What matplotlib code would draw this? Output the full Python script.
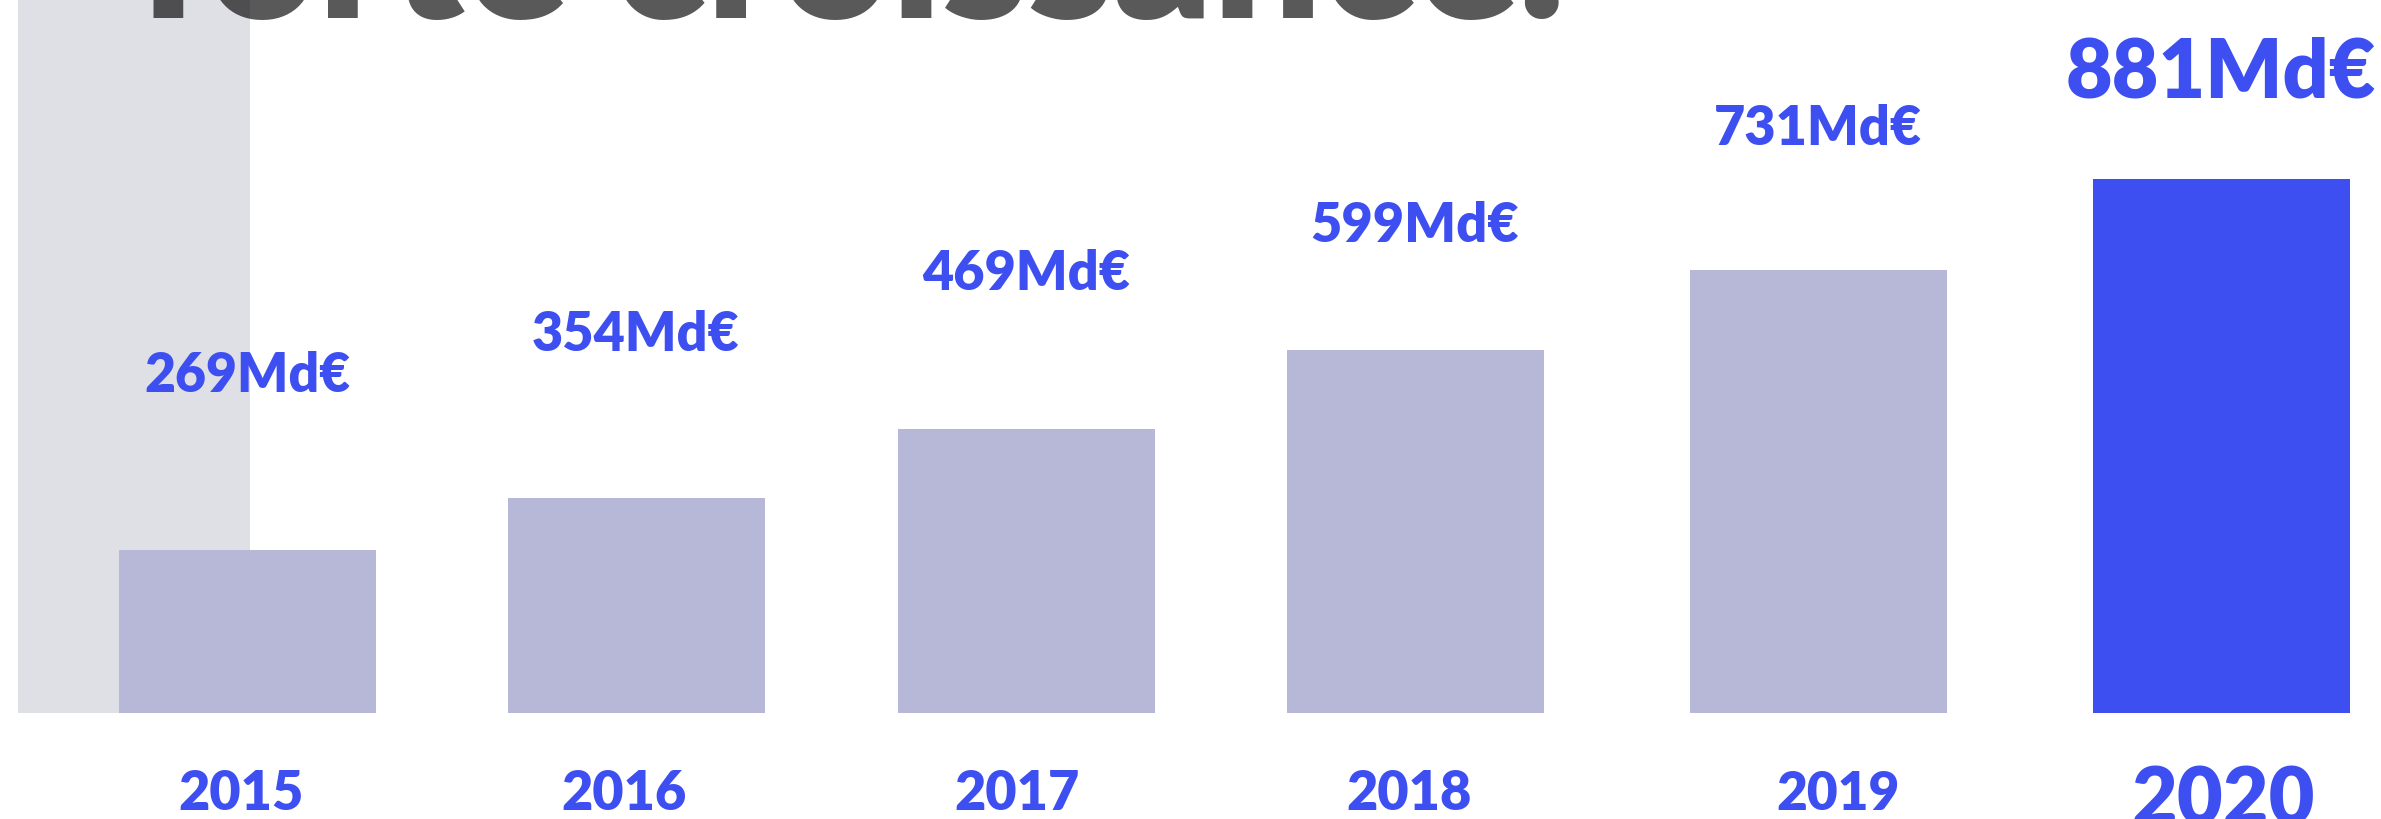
import matplotlib
matplotlib.use("Agg")
import matplotlib.pyplot as plt
from matplotlib.patches import Rectangle

# ---- data ----
years = ["2015", "2016", "2017", "2018", "2019", "2020"]
values = [269, 354, 469, 599, 731, 881]
value_labels = ["269Md€", "354Md€", "469Md€", "599Md€", "731Md€", "881Md€"]
title = "forte croissance."

# ---- layout (pixels) ----
W, H = 2381, 820
bar_centers = [247, 636, 1026, 1415, 1818, 2221]
bar_width = 257
base_px = 106            # pixels from bottom where value 0 sits
px_per_unit = 0.606
label_gap_px = [159, 148, 140, 109, 126, 83]
label_widths = [206, 207, 208, 208, 208, 310]
year_dx = [-6, -12, -9, -6, 20, 2]
year_widths = [125, 125, 125, 125, 123, 183]
year_baseline_px = [10, 10, 10, 10, 10, -5]

BLUE = "#3d4ff0"
LAV = "#b7b8d8"
GRAY = "#dfe0e6"
FONT = "Lato"
WEIGHT = "heavy"

fig = plt.figure(figsize=(W / 100, H / 100), dpi=100)
fig.patch.set_facecolor("white")
ax = fig.add_axes([0, 0, 1, 1])
ax.set_xlim(0, W)
ymin = -base_px / px_per_unit
ymax = (H - base_px) / px_per_unit
ax.set_ylim(ymin, ymax)
ax.axis("off")

renderer = fig.canvas.get_renderer()


def fit(t, target_px):
    fs = t.get_fontsize()
    w = t.get_window_extent(renderer).width
    if w > 0:
        t.set_fontsize(fs * target_px / w)


# grey decorative column
ax.add_patch(Rectangle((18, 0), 232, ymax, facecolor=GRAY, edgecolor="none", zorder=0))

# bars
colors = [LAV] * (len(values) - 1) + [BLUE]
ax.bar(bar_centers, values, width=bar_width, color=colors, zorder=1)

# value labels
for c, v, lab, gap, tw in zip(bar_centers, values, value_labels, label_gap_px, label_widths):
    t = ax.annotate(lab, xy=(c, v), xytext=(0, gap), textcoords="offset pixels",
                    ha="center", va="baseline", color=BLUE, fontsize=40,
                    fontweight=WEIGHT, family=FONT, zorder=3)
    fit(t, tw)

# year labels
for c, y, dx, tw, bp in zip(bar_centers, years, year_dx, year_widths, year_baseline_px):
    t = ax.text(c + dx, (bp - base_px) / px_per_unit, y, ha="center", va="baseline",
                color=BLUE, fontsize=40, fontweight=WEIGHT, family=FONT, zorder=3)
    fit(t, tw)

# clipped title (only the bottom of the letters visible)
tt = fig.text(136 / W, (H - 18) / H, title, ha="left", va="baseline",
              color="black", alpha=0.65, fontsize=150, fontweight=WEIGHT,
              family=FONT, zorder=5)
fit(tt, 1430)

fig.savefig("out.png", dpi=100, facecolor="white")
